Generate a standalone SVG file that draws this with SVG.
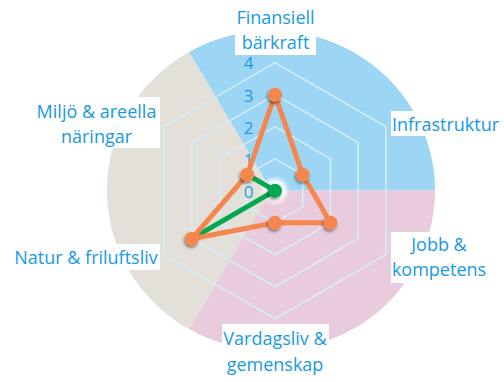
<svg xmlns="http://www.w3.org/2000/svg" width="504" height="382" viewBox="0 0 504 382">
<defs>
<style>
.lbl{font-family:"Open Sans","Liberation Sans",sans-serif;font-size:18px;fill:#189ae4;text-anchor:middle}
.num{font-family:"Open Sans","Liberation Sans",sans-serif;font-size:17px;fill:#189ae4;text-anchor:middle}
.ring{fill:none;stroke:#d9eefa;stroke-width:1.4}
.box{fill:#ffffff}
.ol{fill:none;stroke:#f5864e;stroke-width:5;stroke-linejoin:round}
.gl{fill:none;stroke:#00a94f;stroke-width:5;stroke-linejoin:round}
.om{fill:#f5864e}
.gm{fill:#00a94f}
</style>
<filter id="sh" x="-100%" y="-100%" width="300%" height="300%">
<feDropShadow dx="-1" dy="2" stdDeviation="1.5" flood-color="#000" flood-opacity="0.45"/>
</filter>
<filter id="blur" x="-100%" y="-100%" width="300%" height="300%">
<feGaussianBlur stdDeviation="2"/>
</filter>
</defs>
<rect width="504" height="382" fill="#ffffff"/>
<g id="background">
<path d="M271,190.5 L435,190.5 A164,160 0 0 0 189,51.9 Z" fill="#9dd6f5"/>
<path d="M271,190.5 L189,51.9 A164,160 0 0 0 189,329.1 Z" fill="#e2e0d8"/>
<path d="M271,190.5 L189,329.1 A164,160 0 0 0 435,190.5 Z" fill="#e8cbdd"/>
</g>
<g id="grid">
<polygon class="ring" points="275,158.7 302.71,174.7 302.71,206.7 275,222.7 247.29,206.7 247.29,174.7"/>
<polygon class="ring" points="275,126.7 330.43,158.7 330.43,222.7 275,254.7 219.57,222.7 219.57,158.7"/>
<polygon class="ring" points="275,94.7 358.14,142.7 358.14,238.7 275,286.7 191.86,238.7 191.86,142.7"/>
<polygon class="ring" points="275,62.7 385.85,126.7 385.85,254.7 275,318.7 164.15,254.7 164.15,126.7"/>
</g>
<g id="axis-values">
<text class="num" x="248.5" y="68.5">4</text>
<text class="num" x="248.5" y="101.5">3</text>
<text class="num" x="248.5" y="133.5">2</text>
<text class="num" x="248.5" y="165.5">1</text>
<text class="num" x="248.5" y="198">0</text>
</g>
<circle cx="275" cy="190.7" r="12" fill="#ffffff" filter="url(#blur)"/>
<g id="connectors">
<polyline class="gl" points="247.3,174.7 275,190.7 191.9,238.7"/>
<polygon class="ol" points="275,94.7 302.7,174.7 330.4,222.7 275,222.7 191.9,238.7 247.3,174.7"/>
</g>
<g id="series-green" filter="url(#sh)">
<circle class="gm" cx="275" cy="190.7" r="7"/>
</g>
<g id="series-orange" filter="url(#sh)">
<circle class="om" cx="275" cy="94.7" r="7"/>
<circle class="om" cx="302.7" cy="174.7" r="7"/>
<circle class="om" cx="330.4" cy="222.7" r="7"/>
<circle class="om" cx="275" cy="222.7" r="7"/>
<circle class="om" cx="191.9" cy="238.7" r="7"/>
<circle class="om" cx="247.3" cy="174.7" r="7"/>
</g>
<g id="label-finansiell">
<rect class="box" x="235" y="4" width="81" height="51"/>
<text class="lbl" x="275.5" y="24">Finansiell</text>
<text class="lbl" x="275.5" y="49">bärkraft</text>
</g>
<g id="label-infrastruktur">
<rect class="box" x="391" y="111" width="113" height="25"/>
<text class="lbl" x="445.5" y="130.7">Infrastruktur</text>
</g>
<g id="label-jobb">
<rect class="box" x="391" y="232" width="100" height="51"/>
<text class="lbl" x="439" y="251">Jobb &amp;</text>
<text class="lbl" x="439" y="275.5">kompetens</text>
</g>
<g id="label-vardagsliv">
<rect class="box" x="222" y="324" width="107" height="58"/>
<text class="lbl" x="275" y="345">Vardagsliv &amp;</text>
<text class="lbl" x="275" y="370.5">gemenskap</text>
</g>
<g id="label-natur">
<rect class="box" x="8" y="244" width="152" height="26"/>
<text class="lbl" x="86" y="263.5">Natur &amp; friluftsliv</text>
</g>
<g id="label-miljo">
<rect class="box" x="30" y="97" width="130" height="51"/>
<text class="lbl" x="96.5" y="117.5">Miljö &amp; areella</text>
<text class="lbl" x="96.5" y="142.8">näringar</text>
</g>
</svg>
